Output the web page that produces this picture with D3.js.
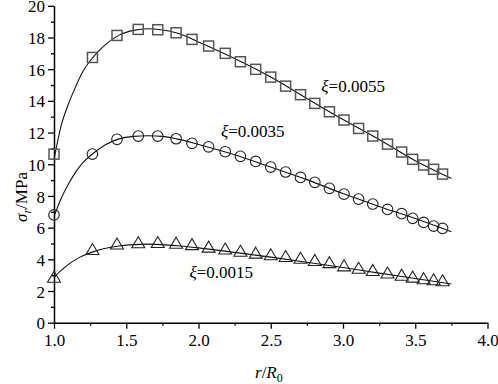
<!DOCTYPE html>
<html>
<head>
<meta charset="utf-8">
<script src="https://cdn.jsdelivr.net/npm/d3@7"></script>
<style>
    body { margin: 0; background: white; }
    svg text { font-family: "Liberation Serif", "Times New Roman", Tinos, "DejaVu Serif", serif !important; }
</style>
</head>
<body>
<svg class="chart" width="498" height="384"></svg>
<script>
// measured points (r/R0)
var rR0 = [1.0, 1.266, 1.436, 1.583, 1.718, 1.845, 1.955, 2.07, 2.185, 2.29, 2.396, 2.5, 2.603,
    2.706, 2.805, 2.906, 3.007, 3.108, 3.206, 3.308, 3.406, 3.482, 3.558, 3.627, 3.689];
var sig0055 = [10.64, 16.74, 18.13, 18.51, 18.49, 18.3, 17.88, 17.46, 17.0, 16.47, 15.99, 15.5, 14.93,
    14.39, 13.84, 13.31, 12.79, 12.26, 11.78, 11.27, 10.77, 10.31, 9.95, 9.68, 9.38];
var sig0035 = [6.8, 10.64, 11.57, 11.78, 11.78, 11.61, 11.32, 11.1, 10.79, 10.5, 10.18, 9.82, 9.51,
    9.17, 8.86, 8.48, 8.12, 7.8, 7.49, 7.15, 6.88, 6.59, 6.33, 6.1, 5.95];
var sig0015 = [2.9, 4.65, 5.0, 5.08, 5.09, 5.05, 4.96, 4.8, 4.68, 4.54, 4.42, 4.32, 4.21,
    4.1, 3.96, 3.82, 3.62, 3.47, 3.33, 3.17, 3.03, 2.91, 2.81, 2.74, 2.68];

// fitted curves
var fitR = [1.0, 1.05, 1.1, 1.15, 1.2, 1.27, 1.35, 1.45, 1.55, 1.65, 1.75, 1.85, 2.0, 2.25, 2.5, 2.75, 3.0, 3.25, 3.5, 3.75];
var fit0055 = [10.3, 12.45, 13.8, 14.9, 15.85, 16.75, 17.5, 18.15, 18.45, 18.55, 18.47, 18.28, 17.72, 16.67, 15.5, 14.15, 12.82, 11.56, 10.22, 9.1];
var fit0035 = [6.7, 7.85, 8.75, 9.5, 10.1, 10.68, 11.2, 11.6, 11.76, 11.8, 11.76, 11.6, 11.25, 10.6, 9.82, 9.03, 8.15, 7.34, 6.57, 5.74];
var fit0015 = [2.85, 3.3, 3.68, 3.98, 4.22, 4.47, 4.68, 4.84, 4.93, 4.96, 4.93, 4.86, 4.72, 4.44, 4.14, 3.82, 3.48, 3.13, 2.79, 2.44];

var xTicks = [1.0, 1.5, 2.0, 2.5, 3.0, 3.5, 4.0];
var yTicks = [0, 2, 4, 6, 8, 10, 12, 14, 16, 18, 20];

// label anchors in data units
var labels = [
    {text: "0.0055", x: 2.85, y: 14.54},
    {text: "0.0035", x: 2.155, y: 11.7},
    {text: "0.0015", x: 1.937, y: 2.84}
];

var svg = d3.select('.chart');
var margin = {left: 54, right: 10.5, top: 5.8, bottom: 61.3};
var W = 498, H = 384;

var x = d3.scaleLinear().domain([1, 4]).range([margin.left, W - margin.right]);
var y = d3.scaleLinear().domain([0, 20]).range([H - margin.bottom, margin.top]);

// minor ticks
svg.append('g')
    .attr('transform', 'translate(0,' + y(0) + ')')
    .call(d3.axisBottom(x).tickValues(d3.range(1.25, 4, 0.5)).tickSize(3).tickFormat(''))
    .call(function (g) { g.select('.domain').remove(); })
    .selectAll('line').attr('stroke-width', 1.3);
svg.append('g')
    .attr('transform', 'translate(' + x(1) + ',0)')
    .call(d3.axisLeft(y).tickValues(d3.range(1, 20, 2)).tickSize(3).tickFormat(''))
    .call(function (g) { g.select('.domain').remove(); })
    .selectAll('line').attr('stroke-width', 1.3);

var xAxis = svg.append('g')
    .attr('transform', 'translate(0,' + y(0) + ')')
    .call(d3.axisBottom(x).tickValues(xTicks).tickSize(6).tickSizeOuter(0).tickPadding(5)
        .tickFormat(d3.format('.1f')));
xAxis.attr('font-size', 17);
xAxis.select('.domain').attr('stroke-width', 1.5);
xAxis.selectAll('line').attr('stroke-width', 1.3);

var yAxis = svg.append('g')
    .attr('transform', 'translate(' + x(1) + ',0)')
    .call(d3.axisLeft(y).tickValues(yTicks).tickSize(6).tickSizeOuter(0).tickPadding(3));
yAxis.attr('font-size', 17);
yAxis.select('.domain').attr('stroke-width', 1.5);
yAxis.selectAll('line').attr('stroke-width', 1.3);
yAxis.selectAll('text').attr('dy', '0.36em');

// fitted lines
var line = d3.line()
    .x(function (d) { return x(d[0]); })
    .y(function (d) { return y(d[1]); })
    .curve(d3.curveMonotoneX);

[fit0055, fit0035, fit0015].forEach(function (s) {
    svg.append('path')
        .datum(fitR.map(function (r, i) { return [r, s[i]]; }))
        .attr('d', line)
        .attr('fill', 'none')
        .attr('stroke', '#111')
        .attr('stroke-width', 1.1);
});

// squares
svg.append('g').selectAll('rect')
    .data(rR0.map(function (r, i) { return [r, sig0055[i]]; }))
    .enter()
    .append('rect')
    .attr('x', function (d) { return x(d[0]) - 5; })
    .attr('y', function (d) { return y(d[1]) - 5; })
    .attr('width', 10)
    .attr('height', 10)
    .attr('fill', 'none')
    .attr('stroke', '#555')
    .attr('stroke-width', 1.5);

// circles
svg.append('g').selectAll('circle')
    .data(rR0.map(function (r, i) { return [r, sig0035[i]]; }))
    .enter()
    .append('circle')
    .attr('cx', function (d) { return x(d[0]); })
    .attr('cy', function (d) { return y(d[1]); })
    .attr('r', 5.3)
    .attr('fill', 'none')
    .attr('stroke', '#222')
    .attr('stroke-width', 1.1);

// triangles (centred on bounding box)
svg.append('g').selectAll('path')
    .data(rR0.map(function (r, i) { return [r, sig0015[i]]; }))
    .enter()
    .append('path')
    .attr('d', function (d) {
        var cx = x(d[0]), cy = y(d[1]);
        return 'M' + cx + ',' + (cy - 5.5) + 'L' + (cx + 6.5) + ',' + (cy + 5.5) +
            'L' + (cx - 6.5) + ',' + (cy + 5.5) + 'Z';
    })
    .attr('fill', 'none')
    .attr('stroke', '#222')
    .attr('stroke-width', 1.1);

// series labels
var lab = svg.append('g').selectAll('text')
    .data(labels)
    .enter()
    .append('text')
    .attr('x', function (d) { return x(d.x); })
    .attr('y', function (d) { return y(d.y); })
    .attr('font-size', 17);
lab.append('tspan').attr('font-style', 'italic').text('ξ');
lab.append('tspan').text(function (d) { return '=' + d.text; });

// axis titles
var xt = svg.append('text')
    .attr('x', 255)
    .attr('y', 378)
    .attr('font-size', 17);
xt.append('tspan').attr('font-style', 'italic').text('r');
xt.append('tspan').text('/');
xt.append('tspan').attr('font-style', 'italic').text('R');
xt.append('tspan').attr('font-size', 12).attr('dy', 4).text('0');

var yt = svg.append('text')
    .attr('transform', 'translate(27,197) rotate(-90)')
    .attr('text-anchor', 'middle')
    .attr('font-size', 17);
yt.append('tspan').attr('font-style', 'italic').text('σ');
yt.append('tspan').attr('font-style', 'italic').attr('font-size', 12).attr('dy', 4).text('r');
yt.append('tspan').attr('dy', -4).text('/MPa');
</script>
</body>
</html>
